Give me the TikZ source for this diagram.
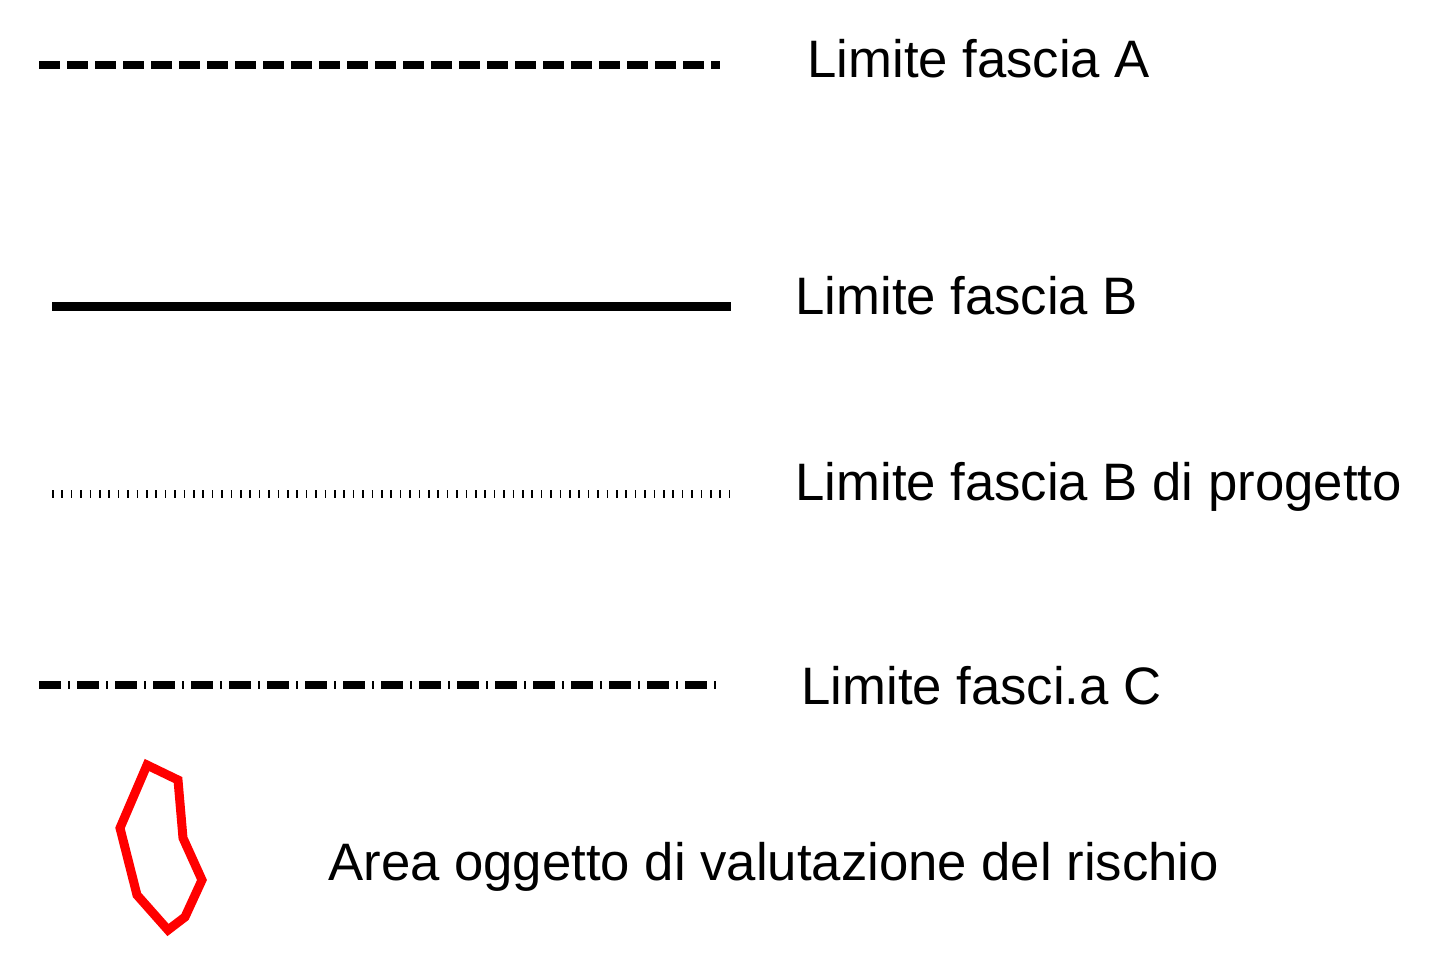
\documentclass[tikz,border=0pt]{standalone}
\usepackage{fontspec}
\setmainfont{Liberation Sans}
\begin{document}
\begin{tikzpicture}[x=0.5pt,y=-0.5pt,
    legend text/.style={anchor=base west,inner sep=0pt,font=\fontsize{26.35}{30}\selectfont},
    fascia A/.style={line width=4pt,dash pattern=on 10.5pt off 3.5pt},
    fascia B/.style={line width=4.5pt},
    fascia B progetto/.style={line width=4pt,dash pattern=on 0.75pt off 3.95pt},
    fascia C/.style={line width=4pt,dash pattern=on 11pt off 3.5pt on 0.75pt off 3.75pt}]
  \useasboundingbox (0,0) rectangle (1439,961);

  \node[legend text] (labelA) at (807,78) {Limite fascia A};
  \node[legend text] (labelB) at (795,315) {Limite fascia B};
  \node[legend text] (labelBp) at (795,501) {Limite fascia B di progetto};
  \node[legend text] (labelC) at (801,704) {Limite fasci.a C};
  \node[legend text] (labelArea) at (328,880) {Area oggetto di valutazione del rischio};

  \draw[fascia A] (39,65) -- (720,65);
  \draw[fascia B] (52,307) -- (731,307);
  \draw[fascia B progetto] (52,494) -- (733,494);
  \draw[fascia C] (39,685) -- (720,685);

  % area di rischio
  \draw[red,line width=4.5pt,line join=miter]
    (147,765) -- (178,780) -- (183,838) -- (202,880) -- (185,917)
    -- (168,930) -- (137,895) -- (120,828) -- cycle;
\end{tikzpicture}
\end{document}
